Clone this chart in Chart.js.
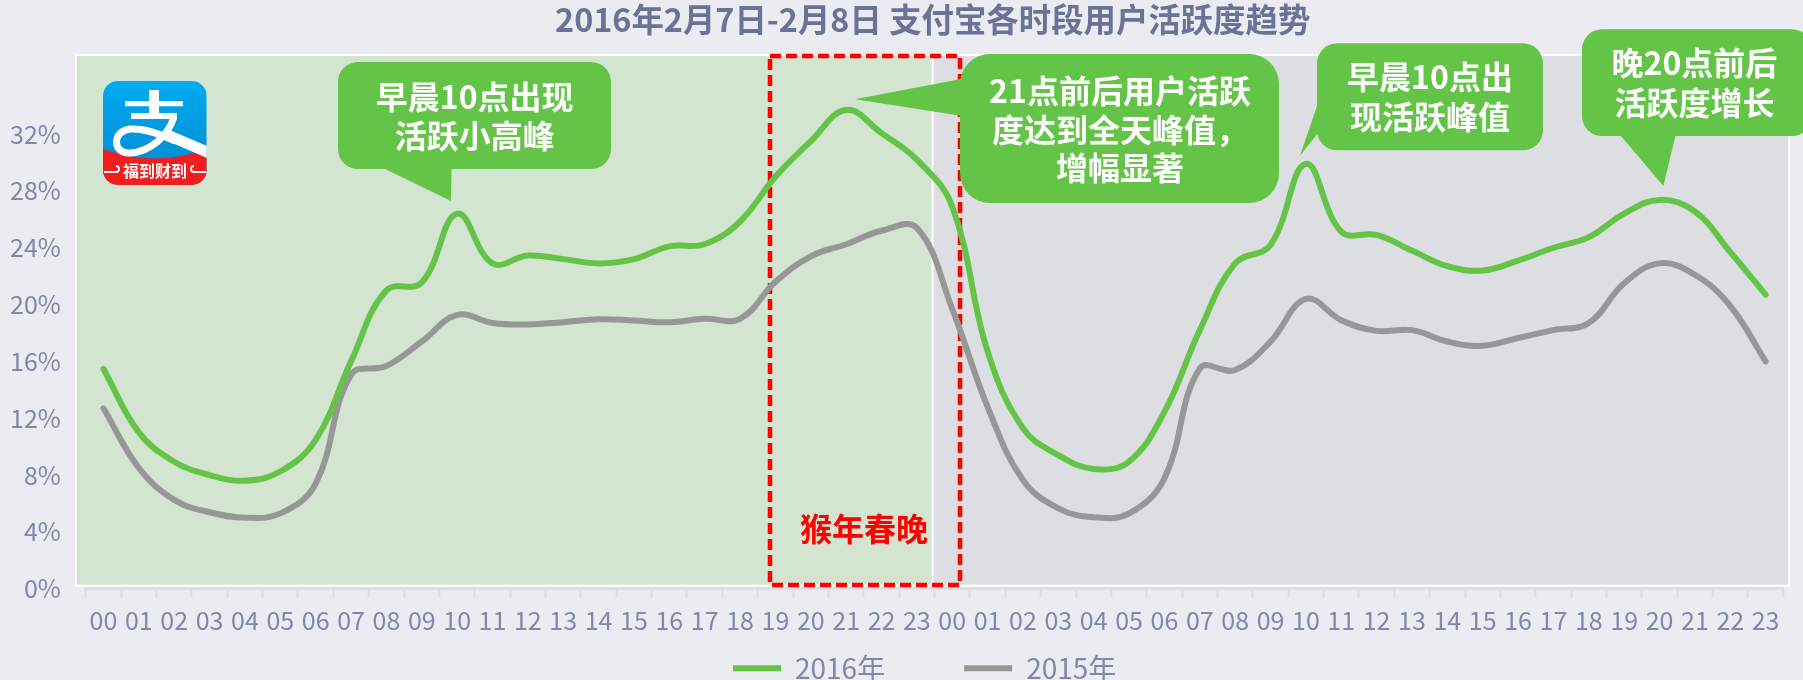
<!DOCTYPE html>
<html><head><meta charset="utf-8">
<style>html,body{margin:0;padding:0;background:#EBECF1;overflow:hidden}canvas{display:block}</style>
<script src="https://cdn.jsdelivr.net/npm/chart.js@4/dist/chart.umd.min.js"></script>
</head><body><div style="width:1803px;height:680px;position:relative"><canvas id="c" width="1803" height="680"></canvas></div>
<script>
const hours = ['00','01','02','03','04','05','06','07','08','09','10','11','12','13','14','15','16','17','18','19','20','21','22','23'];
const categories = hours.concat(hours);
const values2016 = [15.47,11.0,8.94,8.0,7.6,8.25,10.47,16.0,21.0,21.55,26.4,22.9,23.45,23.2,22.9,23.2,24.1,24.25,25.85,29.0,31.5,33.7,32.07,30.2,
  26.9,16.7,11.3,9.4,8.43,8.95,12.45,18.2,22.9,24.2,29.9,25.14,24.9,23.8,22.7,22.4,23.1,24.0,24.75,26.4,27.37,26.55,23.7,20.7];
const values2015 = [12.7,8.5,6.25,5.38,5.0,5.3,7.4,15.05,15.68,17.4,19.27,18.7,18.6,18.76,18.97,18.88,18.76,19.0,19.0,21.6,23.4,24.25,25.2,25.4,
  19.7,12.8,7.65,5.66,5.03,5.3,7.77,15.5,15.4,17.4,20.4,18.9,18.15,18.2,17.4,17.1,17.65,18.2,18.7,21.5,22.9,22.1,19.9,16.0];
const seriesNames = ['2016年','2015年'];
const titleText = '2016年2月7日-2月8日 支付宝各时段用户活跃度趋势';
const yTickValues = [0,4,8,12,16,20,24,28,32];

const FONT = '"Noto Sans CJK SC","Noto Sans",sans-serif';
const callouts = [
 {rect:[338,62,273,107],r:20,tail:[[385,169],[451,201],[451.5,169]],cx:474.7,lines:[['早晨10点出现',96.7],['活跃小高峰',136]]},
 {rect:[960,54,319,149],r:30,tail:[[961,79],[855,99.3],[961,115.7]],cx:1120,lines:[['21点前后用户活跃',91],['度达到全天峰值，',130],['增幅显著',168]]},
 {rect:[1317,43.3,226,107],r:20,tail:[[1318,103],[1300,155.7],[1318,133]],cx:1430,lines:[['早晨10点出',77.3],['现活跃峰值',116.7]]},
 {rect:[1582,29.3,230,106.7],r:20,tail:[[1620,135],[1663.4,186],[1675.7,135]],cx:1694.4,lines:[['晚20点前后',63],['活跃度增长',102.7]]}
];

function drawLogo(ctx){
  const x=103,y=81,w=103.7,h=104;
  ctx.save();
  ctx.beginPath();ctx.roundRect(x,y,w,h,15);ctx.clip();
  const g=ctx.createLinearGradient(0,y,0,y+80);g.addColorStop(0,'#00ABEF');g.addColorStop(1,'#0090D6');
  ctx.fillStyle=g;ctx.fillRect(x,y,w,h);
  ctx.fillStyle='#F31D1D';
  ctx.beginPath();ctx.moveTo(x,149);ctx.quadraticCurveTo(x+w/2,168,x+w,149);ctx.lineTo(x+w,y+h);ctx.lineTo(x,y+h);ctx.closePath();ctx.fill();
  ctx.strokeStyle='#fff';ctx.fillStyle='#fff';ctx.lineCap='butt';
  ctx.lineWidth=5;ctx.beginPath();ctx.moveTo(125,103.7);ctx.lineTo(183,103.7);ctx.stroke();
  ctx.lineWidth=10;ctx.beginPath();ctx.moveTo(154,90);ctx.lineTo(154,114);ctx.stroke();
  ctx.lineWidth=6;ctx.beginPath();ctx.moveTo(131,116);ctx.lineTo(177,116);ctx.stroke();
  ctx.lineWidth=7;ctx.beginPath();ctx.moveTo(174,117);ctx.bezierCurveTo(168,136,150,152,130,153);ctx.bezierCurveTo(112,154,112,131,130,129);ctx.bezierCurveTo(145,128,160,134,175,141);ctx.stroke();
  ctx.beginPath();ctx.moveTo(165,128);ctx.lineTo(207,146);ctx.lineTo(207,158);ctx.lineTo(163,139);ctx.closePath();ctx.fill();
  ctx.font='bold 16px '+FONT;ctx.textAlign='center';ctx.textBaseline='middle';
  ctx.fillText('福到财到',155,171);
  ctx.lineWidth=1.8;ctx.beginPath();ctx.moveTo(104,172);ctx.lineTo(114,172);ctx.arc(116,169,3,Math.PI/2,-Math.PI/2,true);ctx.moveTo(206,172);ctx.lineTo(196,172);ctx.arc(194,169,3,Math.PI/2,Math.PI*1.5,false);ctx.stroke();
  ctx.restore();
}

const LEG_PAD=79;
const decor = {
  id:'decor',
  beforeLayout(chart){
    const l=chart.legend;
    if(l && !l._fixedFit){
      const fit=l.fit;
      l.fit=function(){fit.call(this);this.height=10;};
      l._fixedFit=true;
    }
  },
  afterLayout(chart){
    const t=chart.titleBlock; t.left+=41; t.right+=41;
    const l=chart.legend;
    l.left=733-LEG_PAD; l.right=l.left+LEG_PAD+l.lineWidths[0];
    l.top=671-LEG_PAD-16.8; l.bottom=700;
  },
  beforeDraw(chart){
    const {ctx,scales:{x},chartArea:a}=chart;
    const left=a.left-9,right=a.right+5,top=a.top,bottom=a.bottom-4,mid=(x.left+x.right)/2-2;
    ctx.save();
    ctx.fillStyle='#fff';ctx.fillRect(left-2,top-2,right-left+4,bottom-top+4);
    ctx.fillStyle='#D3E4D1';ctx.fillRect(left,top,mid-left-1,bottom-top);
    ctx.fillStyle='#DDDEE2';ctx.fillRect(mid+1,top,right-mid-1,bottom-top);
    ctx.restore();
  },
  beforeDatasetsDraw(chart){
    const {ctx}=chart;
    ctx.save();
    ctx.strokeStyle='#FF0000';ctx.lineWidth=4.5;ctx.setLineDash([11,5]);
    ctx.strokeRect(770,56,190,529);
    ctx.setLineDash([]);
    ctx.fillStyle='#FF0000';ctx.font='bold 32px '+FONT;ctx.textAlign='center';ctx.textBaseline='middle';
    ctx.fillText('猴年春晚',864,529);
    ctx.restore();
    drawLogo(ctx);
  },
  afterDatasetsDraw(chart){
    const {ctx}=chart;
    ctx.save();
    ctx.textAlign='center';ctx.textBaseline='middle';
    for(const c of callouts){
      ctx.fillStyle='#64C448';
      ctx.beginPath();ctx.roundRect(c.rect[0],c.rect[1],c.rect[2],c.rect[3],c.r);ctx.fill();
      ctx.beginPath();c.tail.forEach((p,i)=>i?ctx.lineTo(p[0],p[1]):ctx.moveTo(p[0],p[1]));ctx.closePath();ctx.fill();
      ctx.fillStyle='#fff';ctx.font='bold 32px '+FONT;
      for(const [s,y] of c.lines) ctx.fillText(s,c.cx,y);
    }
    ctx.restore();
  }
};

Chart.defaults.font.family=FONT;
new Chart(document.getElementById('c'),{
  type:'line',
  data:{labels:categories,datasets:[
    {label:seriesNames[0],data:values2016,borderColor:'#64C448',backgroundColor:'#64C448',borderWidth:6,borderCapStyle:'round',tension:0.4,pointRadius:0,fill:false},
    {label:seriesNames[1],data:values2015,borderColor:'#979797',backgroundColor:'#979797',borderWidth:6,borderCapStyle:'round',tension:0.4,pointRadius:0,fill:false}
  ]},
  options:{
    responsive:false,animation:false,
    layout:{padding:{left:0,right:19.7,top:0,bottom:21.3}},
    plugins:{
      tooltip:{enabled:false},
      title:{display:true,text:titleText,color:'#6B7297',font:{size:32.4,weight:'bold',family:FONT},padding:{top:0,bottom:17.1}},
      legend:{display:true,position:'bottom',labels:{usePointStyle:true,pointStyle:'line',pointStyleWidth:48,boxHeight:4,padding:LEG_PAD,color:'#8088AA',font:{size:28,family:FONT}}}
    },
    scales:{
      x:{type:'category',offset:true,afterFit(s){s.height=60;},
        border:{color:'#DEDFE3',width:3},
        grid:{offset:true,drawOnChartArea:false,drawTicks:true,tickLength:9,tickColor:'#DEDFE3',tickWidth:2},
        ticks:{autoSkip:false,maxRotation:0,minRotation:0,padding:8,color:'#8088AA',font:{size:25,family:FONT}}},
      y:{min:0,max:37.5,afterFit(s){s.width=85.8;},
        afterBuildTicks(s){s.ticks=yTickValues.map(v=>({value:v}));},
        border:{display:false},grid:{display:false,drawTicks:false},
        ticks:{padding:25,color:'#8088AA',font:{size:25,family:FONT},callback:v=>v+'%'}}
    }
  },
  plugins:[decor]
});
</script></body></html>
